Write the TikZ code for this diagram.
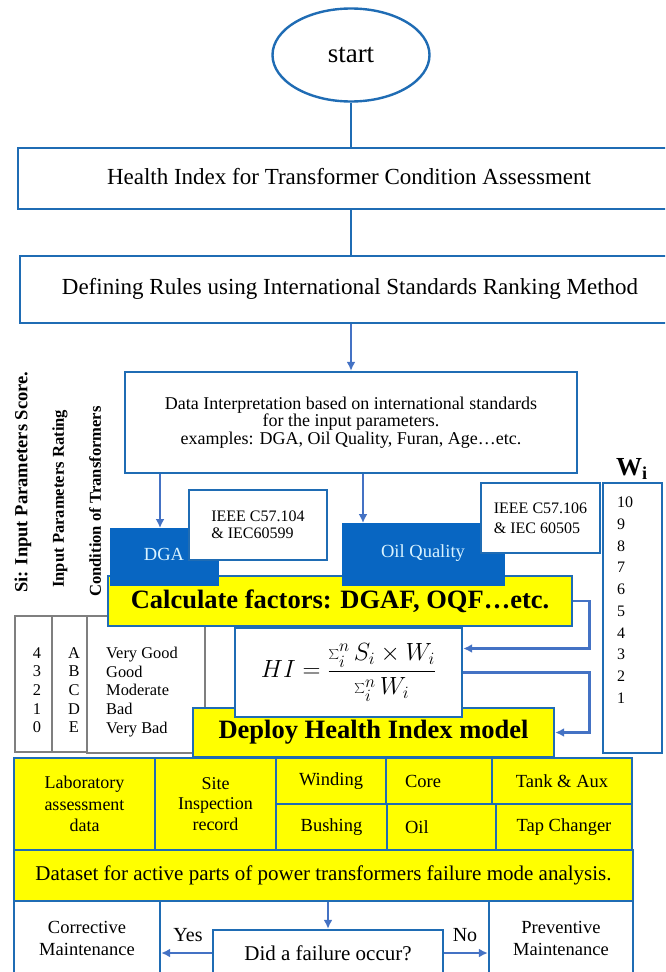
\documentclass[tikz,border=0pt]{standalone}
\usepackage{fontspec}
\setmainfont{Liberation Serif}
\usetikzlibrary{arrows.meta,positioning,calc,shapes.geometric}
\definecolor{hiLine}{HTML}{1F6CB4}
\definecolor{hiArrow}{HTML}{4472C4}
\definecolor{hiTag}{HTML}{0866C2}
\definecolor{hiTagText}{HTML}{D9F3FF}
\definecolor{hiYellow}{HTML}{FFFF00}
\definecolor{hiGrid}{HTML}{7F7F7F}
\newcommand{\px}[2]{\fontsize{#1}{#2}\selectfont}
\tikzset{
  >={Latex[length=9pt,width=9pt]},
  flow/.style={->, draw=hiArrow, line width=2.6pt},
  link/.style={draw=hiLine, line width=2.4pt},
  panel/.style={draw=hiLine, line width=2.4pt, fill=white, text=black,
                inner sep=0pt, align=center, font=\px{23}{27}},
  ybox/.style={panel, fill=hiYellow},
  part/.style={ybox, font=\px{18.5}{21}, minimum height=46pt},
  tagbox/.style={fill=hiTag, draw=hiTag, text=hiTagText, inner sep=0pt,
                 font=\px{18.5}{20}},
  startnode/.style={ellipse, draw=hiLine, line width=2.4pt, fill=white,
                    inner sep=0pt, font=\px{27}{30}},
  cell/.style={draw=hiGrid, line width=1.4pt, fill=white, inner sep=0pt},
  celltxt/.style={font=\px{16.4}{18.7}, align=center, inner sep=0pt},
  colhead/.style={rotate=90, font=\bfseries\px{16.6}{18}, inner sep=0pt},
  plain/.style={inner sep=0pt, font=\px{20}{22}}
}

\begin{document}
\begin{tikzpicture}[x=1pt,y=-1pt]
\useasboundingbox (0,0) rectangle (665,972);
\clip (0,0) rectangle (665,972);

% ------------------------------------------------------------
% TOP: start and framing steps
% ------------------------------------------------------------
\node[startnode, minimum width=157pt, minimum height=93pt] (start) at (351,55) {start};
\node[panel, minimum width=662pt, minimum height=61pt] (hidx) at (349,178.5)
{\raisebox{4pt}{Health Index for Transformer Condition Assessment}};
\node[panel, minimum width=660pt, minimum height=67pt] (rules) at (350,289.5)
{\raisebox{6pt}{Defining Rules using International Standards Ranking Method}};

\draw[link] (start.south) -- (start.south |- hidx.north);
\draw[link] (hidx.south -| start.south) -- (rules.north -| start.south);

\node[panel, font=\px{18}{17.6}, minimum width=452pt, minimum height=101pt] (data) at (351,422.5)
{Data Interpretation based on international standards\\for the input parameters.\\examples: DGA, Oil Quality, Furan, Age\ldots etc.};
\draw[flow] (rules.south -| data.north) -- (data.north);

% ------------------------------------------------------------
% LEFT: rating table
% ------------------------------------------------------------
\node[colhead, font=\bfseries\px{18.5}{20}, anchor=west] (scorehead) at (23,593) {Si: Input Parameters Score.};
\node[colhead, anchor=west] (ratehead) at (60,588) {Input Parameters Rating};
\node[colhead, anchor=west] (condhead) at (95,597) {Condition of Transformers};

\node[cell, minimum width=37pt, minimum height=136pt] (scorecol) at (33.5,684) {};
\node[cell, minimum width=35pt, minimum height=136pt] (ratecol) at (69.5,684) {};
\node[cell, minimum width=118pt, minimum height=137pt] (condcol) at (146,684.5) {};
\node[celltxt, anchor=north] (scores) at (37,647) {4\\3\\2\\1\\0};
\node[celltxt, anchor=north] (grades) at (74,647) {A\\B\\C\\D\\E};
\node[celltxt, align=left, anchor=north west] (conds) at (106,647)
{Very Good\\Good\\Moderate\\Bad\\Very Bad};

% ------------------------------------------------------------
% CENTER: factors, standards and HI model
% ------------------------------------------------------------
\node[ybox, font=\bfseries\px{26.5}{28}, minimum width=464pt, minimum height=50pt] (calc) at (340,601)
{Calculate factors: DGAF, OQF\ldots etc.};

\coordinate (dgain) at (160,528);
\coordinate (oilin) at (363,523);
\node[tagbox, minimum width=108pt, minimum height=57pt] (dga) at (164,556.5) {\raisebox{5pt}{DGA}};
\node[tagbox, minimum width=162pt, minimum height=62pt] (oil) at (423,554) {\raisebox{6pt}{Oil Quality}};
\draw[flow] (data.south -| dgain) -- (dgain);
\draw[flow] (data.south -| oilin) -- (oilin);

\node[panel, font=\px{16}{17}, align=left, minimum width=138pt, minimum height=70pt] (std1) at (258,525)
{IEEE C57.104\\\& IEC60599};
\node[panel, font=\px{16}{20}, align=left, minimum width=119pt, minimum height=70pt] (std2) at (540.5,518)
{IEEE C57.106\\\& IEC 60505};

% weights column
\node[font=\bfseries\px{26}{28}, inner sep=0pt] (wilabel) at (632,469) {W\textsubscript{i}};
\node[panel, minimum width=59pt, minimum height=270pt] (wibox) at (632.5,618) {};
\node[celltxt, font=\px{16}{21.7}, align=left, anchor=north west] (weights) at (617,497)
{10\\9\\8\\7\\6\\5\\4\\3\\2\\1};

\node[ybox, font=\bfseries\px{26.5}{28}, minimum width=361pt, minimum height=49pt] (deploy) at (373.5,732.5)
{Deploy Health Index model};
\node[panel, font=\px{23}{26}, minimum width=227pt, minimum height=89pt] (hi) at (348.5,672.5)
{$\displaystyle HI=\frac{\sum_i^n S_i\times W_i}{\sum_i^n W_i}$};

\draw[flow] (calc.east) -- ++(16,0) |- ($(hi.east)+(0,-24)$);
\draw[flow] (hi.east) -- ++(126,0) |- (deploy.east);

% ------------------------------------------------------------
% BOTTOM: failure mode data and maintenance decision
% ------------------------------------------------------------
\node[part, font=\px{18}{21.5}, minimum width=141pt, minimum height=92pt] (lab) at (84.5,804)
{Laboratory\\assessment\\data};
\node[part, font=\px{18}{20.5}, minimum width=121pt, minimum height=92pt] (site) at (215.5,804)
{Site\\Inspection\\record};
\node[part, minimum width=110pt] (winding) at (331,781) {Winding};
\node[part, minimum width=106pt, text width=68pt, inner xsep=19pt, align=left] (core) at (439,781) {Core};
\node[part, minimum width=140pt] (tank) at (562,781) {Tank \& Aux};
\node[part, minimum width=111pt] (bushing) at (331.5,827) {Bushing};
\node[part, minimum width=109pt, text width=73pt, inner xsep=18pt, align=left] (oilpart) at (441.5,827) {Oil};
\node[part, minimum width=136pt] (tap) at (564,827) {Tap Changer};
\node[ybox, font=\px{21}{24}, minimum width=619pt, minimum height=51pt] (dataset) at (323.5,875.5)
{Dataset for active parts of power transformers failure mode analysis.};

\node[panel, font=\px{18.5}{22}, minimum width=146pt, minimum height=75pt] (corr) at (87,938.5)
{Corrective\\Maintenance};
\node[panel, font=\px{18.5}{22}, minimum width=144pt, minimum height=75pt] (prev) at (561,938.5)
{Preventive\\Maintenance};
\node[panel, font=\px{21}{24}, minimum width=230pt, minimum height=46pt] (did) at (328,953)
{Did a failure occur?};
\node[plain] (yes) at (188,935) {Yes};
\node[plain] (no) at (465,935) {No};

\draw[flow] (dataset.south -| did.north) -- (did.north);
\draw[flow] (did.west) -- (corr.east |- did.west);
\draw[flow] (did.east) -- (prev.west |- did.east);

\end{tikzpicture}
\end{document}
